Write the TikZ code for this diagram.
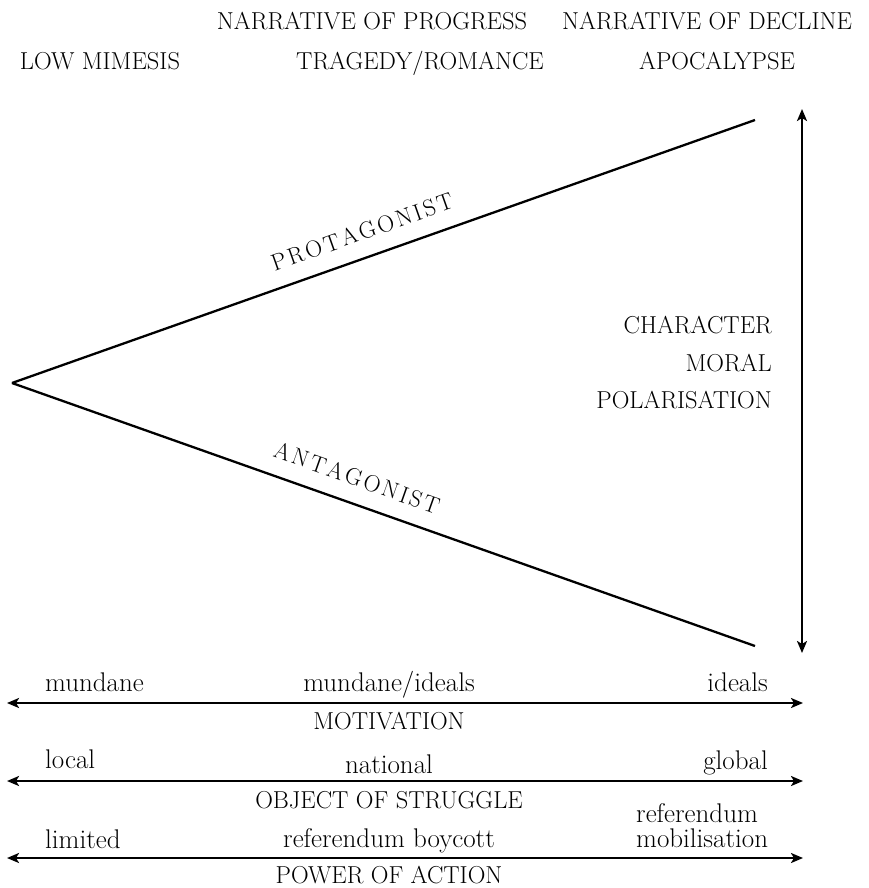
\documentclass[tikz,border=0pt]{standalone}
\usepackage{fontspec}
\usetikzlibrary{arrows.meta}
\newcommand{\lsp}[1]{\kern2.6pt#1}
\begin{document}
\begin{tikzpicture}[x=1pt,y=-1pt,
  lbl/.style={font=\fontsize{24.5}{29}\selectfont, inner sep=0pt},
  low/.style={font=\fontsize{27}{32}\selectfont, inner sep=0pt},
  spaced/.style={font=\fontsize{23.5}{28}\selectfont, inner sep=0pt},
  ln/.style={line width=2.3pt},
  arr/.style={line width=2.3pt, {Stealth[length=12pt,width=10pt,inset=3pt]}-{Stealth[length=12pt,width=10pt,inset=3pt]}}]
\useasboundingbox (0,0) rectangle (868,888);
% top headings
\node[lbl, anchor=base] (np) at (372,30) {NARRATIVE OF PROGRESS};
\node[lbl, anchor=base] (nd) at (707,30) {NARRATIVE OF DECLINE};
\node[lbl, anchor=base] (lm) at (100,70) {LOW MIMESIS};
\node[lbl, anchor=base] (tr) at (420,70) {TRAGEDY/ROMANCE};
\node[lbl, anchor=base] (ap) at (717,70) {APOCALYPSE};
% triangle
\coordinate (apex) at (12,383);
\coordinate (ptop) at (755,120);
\coordinate (pbot) at (755,646);
\draw[ln] (apex) -- (ptop);
\draw[ln] (apex) -- (pbot);
\node[spaced, rotate=19.5] (prot) at (362,232) {P\lsp{R}\lsp{O}\lsp{T}\lsp{A}\lsp{G}\lsp{O}\lsp{N}\lsp{I}\lsp{S}\lsp{T}};
\node[spaced, rotate=-19.5] (ant) at (357,478) {A\lsp{N}\lsp{T}\lsp{A}\lsp{G}\lsp{O}\lsp{N}\lsp{I}\lsp{S}\lsp{T}};
% vertical arrow
\coordinate (vt) at (802,109);
\coordinate (vb) at (802,653);
\draw[arr] (vt) -- (vb);
\node[lbl, anchor=base east] (ch) at (772,333) {CHARACTER};
\node[lbl, anchor=base east] (mo) at (772,371) {MORAL};
\node[lbl, anchor=base east] (po) at (772,408) {POLARISATION};
% motivation
\coordinate (a1l) at (7,703);
\coordinate (a1r) at (803,703);
\draw[arr] (a1l) -- (a1r);
\node[low, anchor=base west] (mu) at (45,691) {mundane};
\node[low, anchor=base] (mi) at (389,691) {mundane/ideals};
\node[low, anchor=base east] (id) at (768,691) {ideals};
\node[lbl, anchor=base] (mot) at (389,729) {MOTIVATION};
% object of struggle
\coordinate (a2l) at (7,781);
\coordinate (a2r) at (803,781);
\draw[arr] (a2l) -- (a2r);
\node[low, anchor=base west] (lo) at (45,768) {local};
\node[low, anchor=base] (na) at (389,773) {national};
\node[low, anchor=base east] (gl) at (768,769) {global};
\node[lbl, anchor=base] (obj) at (389,808) {OBJECT OF STRUGGLE};
% power of action
\coordinate (a3l) at (7,858);
\coordinate (a3r) at (803,858);
\draw[arr] (a3l) -- (a3r);
\node[low, anchor=base west] (li) at (45,848) {limited};
\node[low, anchor=base] (rb) at (389,847) {referendum boycott};
\node[low, anchor=base west] (re) at (636,822) {referendum};
\node[low, anchor=base west] (mb) at (636,847) {mobilisation};
\node[lbl, anchor=base] (pow) at (389,883) {POWER OF ACTION};
\end{tikzpicture}
\end{document}
